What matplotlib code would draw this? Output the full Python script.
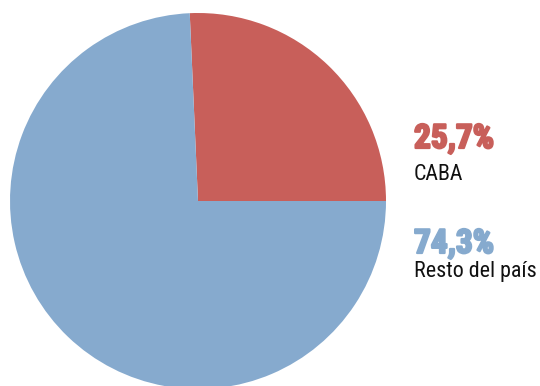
import matplotlib
matplotlib.use("Agg")
import matplotlib.pyplot as plt
from matplotlib import patheffects

labels = ["CABA", "Resto del país"]
shares = [25.7, 74.3]
colors = ["#C85F5A", "#86AACE"]

FONT = "Roboto Condensed"

fig = plt.figure(figsize=(5.4, 3.86), dpi=100)
W, H = 540, 386
cx, cy, r = 198, 201, 188
ax = fig.add_axes([(cx - r) / W, (H - cy - r) / H, 2 * r / W, 2 * r / H])
ax.pie(shares, colors=colors, startangle=0, counterclock=True, radius=1,
       wedgeprops=dict(linewidth=0))
ax.set_xlim(-1, 1)
ax.set_ylim(-1, 1)
ax.set_aspect("equal")
ax.axis("off")


def fmt(v):
    return f"{v:.1f}".replace(".", ",") + "%"


# baselines (px from top) for value and label
ys = [(148, 180), (253, 277.5)]
for lab, val, col, (yv, yl) in zip(labels, shares, colors, ys):
    fig.text(414 / W, 1 - yv / H, fmt(val), color=col, fontsize=24,
             fontweight="bold", family=FONT, va="baseline", ha="left",
             path_effects=[patheffects.withStroke(linewidth=1.6, foreground=col)])
    fig.text(414 / W, 1 - yl / H, lab, color="#111111", fontsize=15.8,
             family=FONT, va="baseline", ha="left")

fig.savefig("out.png", dpi=100)
